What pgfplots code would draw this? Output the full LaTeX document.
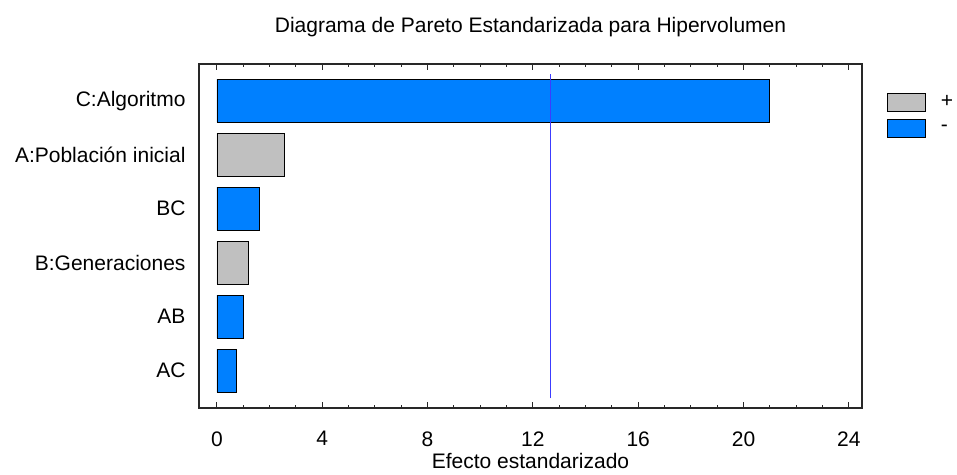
\documentclass[border=0pt]{standalone}
\usepackage{pgfplots}
\pgfplotsset{compat=1.18}
\usepackage{fontspec}
\setmainfont{Liberation Sans}

\definecolor{barblue}{RGB}{0,128,255}
\definecolor{bargray}{RGB}{192,192,192}
\definecolor{refline}{RGB}{60,60,255}
\definecolor{frame}{RGB}{40,40,40}

\newcommand{\chartfont}{\fontsize{21bp}{25bp}\selectfont}

\begin{document}
\begin{tikzpicture}
\useasboundingbox (-199bp,-67bp) rectangle (758bp,408bp);
\begin{axis}[
  scale only axis,
  width=663bp, height=344bp,
  xmin=-0.68, xmax=24.5,
  ymin=-0.69, ymax=5.68,
  xbar, bar shift=0pt, bar width=0.8,
  axis line style={frame, line width=1.3bp},
  xtick={0,4,...,24},
  minor xtick={0,1,...,24},
  major tick length=6bp, minor tick length=3bp,
  tick style={frame, line width=1bp},
  xtick pos=both,
  ytick={0,1,2,3,4,5},
  yticklabels={AC,AB,B:Generaciones,BC,A:Población inicial,C:Algoritmo},
  ytick style={draw=none},
  /pgf/number format/assume math mode=true,
  ticklabel style={font=\chartfont},
  xticklabel style={yshift=-20bp},
  yticklabel style={xshift=-4bp},
  xlabel={Efecto estandarizado},
  xlabel style={font=\chartfont, yshift=0bp},
  title={Diagrama de Pareto Estandarizada para Hipervolumen},
  title style={font=\chartfont, yshift=18bp},
  legend style={draw=none, fill=none, font=\chartfont,
    at={(1,1)}, anchor=north west, xshift=22bp, yshift=-27bp,
    row sep=7.5bp, cells={anchor=west},
    /tikz/every odd column/.append style={column sep=13bp}},
  legend image code/.code={\draw[#1] (0bp,-9bp) rectangle (38bp,9bp);},
]
% positive effects
\addplot[fill=bargray, draw=black, line width=0.8bp]
  coordinates {(2.57,4) (1.18,2)};
\addlegendentry{+}
% negative effects
\addplot[fill=barblue, draw=black, line width=0.8bp]
  coordinates {(20.99,5) (1.61,3) (1.01,1) (0.73,0)};
\addlegendentry{-}
% significance threshold
\addplot[refline, line width=1bp, forget plot, xbar=false, sharp plot]
  coordinates {(12.68,-0.51) (12.68,5.49)};
\end{axis}
\end{tikzpicture}
\end{document}
